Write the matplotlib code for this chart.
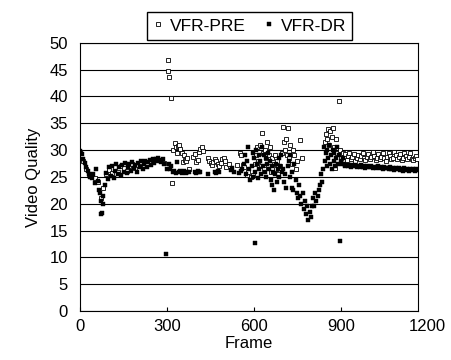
import matplotlib.pyplot as plt
import numpy as np

plt.rcParams['font.family'] = ['Liberation Sans', 'DejaVu Sans']

# ---- VFR-DR (filled squares) ----
dr_frames_a = np.arange(0, 305, 5)
dr_vals_a = [29.8, 29.2, 28.4, 27.6, 26.8, 26.2, 25.6, 25.0, 24.8, 25.5,
             23.8, 26.5, 24.2, 22.5, 20.5, 18.3, 21.5, 23.5, 25.8, 24.6,
             26.8, 25.2, 27.0, 24.8, 26.2, 27.4, 25.6, 26.9, 25.4, 27.2,
             26.0, 27.6, 25.8, 26.8, 27.5, 26.2, 27.8, 26.6, 27.3, 26.0,
             27.6, 26.8, 27.9, 26.5, 27.4, 28.0, 26.9, 27.8, 28.2, 27.3,
             28.3, 27.6, 28.4, 27.9, 28.5, 28.1, 27.8, 28.3, 27.5, 10.6,
             26.5]

dr_frames_b = [68, 72, 78, 305, 310, 315, 320, 325, 330, 335, 340, 345, 350,
               355, 360, 365, 370, 375, 395, 400, 405, 410, 415, 440, 465,
               470, 475, 480, 520, 525, 530, 550, 555, 560]
dr_vals_b = [22.0, 18.0, 20.0, 27.5, 26.5, 27.0, 26.0, 26.2, 25.8, 27.7,
             25.9, 26.1, 25.7, 26.0, 26.2, 25.8, 26.0, 25.9, 26.0, 25.8,
             26.1, 25.9, 26.0, 25.5, 26.0, 25.8, 26.1, 25.9, 26.3, 26.6,
             26.0, 25.8, 26.2, 26.5]

dr_frames_c = [565, 570, 573, 576, 580, 583, 586, 592, 595, 598, 601, 603,
               604, 607, 610, 613, 616, 619, 622, 625, 628, 631, 634, 637,
               640, 643, 646, 649, 652, 655, 658, 661, 664, 667, 670, 673,
               676, 679, 682, 685, 688, 691, 694, 697]
dr_vals_c = [27.5, 29.0, 25.5, 28.0, 30.5, 26.5, 24.5, 27.0, 29.5, 25.0,
             28.5, 12.7, 26.0, 30.0, 27.5, 24.8, 29.0, 26.5, 28.0, 25.5,
             30.5, 27.0, 29.0, 26.0, 28.5, 25.0, 27.5, 29.5, 26.5, 28.0,
             24.5, 27.0, 23.5, 26.0, 22.5, 25.5, 27.5, 24.0, 26.5, 28.5,
             25.0, 27.0, 29.0, 26.0]

dr_frames_d = [700, 705, 708, 712, 716, 720, 723, 726, 730, 733, 736, 740,
               744, 748, 752, 756, 760, 764, 768, 772, 776, 780, 784, 788,
               792, 796, 800, 804, 808, 812, 816, 820, 824, 828, 832, 835,
               838, 842, 845, 848, 851, 854, 857, 860, 863, 866, 869, 872,
               875, 878, 881, 884, 887, 890, 893, 897, 900, 903, 906]
dr_vals_d = [26.5, 24.0, 25.5, 23.0, 27.0, 28.0, 25.0, 29.0, 23.0, 26.0,
             22.5, 27.5, 24.5, 22.0, 21.0, 23.5, 21.5, 20.0, 22.0, 19.0,
             20.5, 18.0, 19.5, 17.0, 18.5, 17.5, 19.5, 21.0, 19.5, 22.0,
             20.5, 21.5, 22.5, 23.5, 25.5, 24.0, 26.5, 30.5, 28.0, 29.5,
             27.0, 30.0, 28.5, 31.0, 27.5, 29.0, 26.5, 30.0, 28.0, 29.5,
             27.0, 28.5, 30.5, 27.5, 29.0, 13.1, 28.0, 27.5, 28.5]

dr_frames_e = np.arange(910, 1170, 5)
dr_vals_e = [27.4, 27.1, 27.3, 27.0, 27.2, 26.9, 27.3, 27.0, 27.2, 26.8,
             27.1, 26.9, 27.2, 26.8, 27.0, 26.7, 27.1, 26.9, 26.8, 27.0,
             26.7, 26.9, 26.6, 26.8, 27.0, 26.6, 26.8, 26.5, 26.9, 26.6,
             26.7, 26.4, 26.8, 26.5, 26.6, 26.3, 26.7, 26.4, 26.6, 26.3,
             26.5, 26.2, 26.6, 26.3, 26.5, 26.2, 26.4, 26.3, 26.5, 26.2,
             26.4, 26.3]

# ---- VFR-PRE (open squares) ----
pre_frames_a = np.arange(0, 300, 10)
pre_vals_a = [29.6, 28.0, 26.5, 25.5, 25.3, 24.8, 24.0, 21.0, 23.0, 25.5,
              26.3, 25.8, 26.8, 26.0, 27.0, 26.6, 26.2, 27.1, 27.4, 26.7,
              27.2, 27.7, 27.0, 27.6, 28.0, 27.8, 28.1, 28.2, 27.9, 27.6]

pre_frames_b = [302, 304, 308, 312, 318, 322, 326, 330, 334, 338, 342, 346,
                350, 354, 358, 362, 366, 370, 376, 390, 395, 400, 405, 410,
                415, 420, 425, 440, 445, 450, 455, 460, 465, 470, 475, 480,
                485, 490, 495, 500, 505, 515, 540, 552, 556, 562, 566, 575,
                580, 590, 597]
pre_vals_b = [46.8, 44.8, 43.6, 39.7, 23.9, 30.0, 31.3, 30.5, 29.5, 30.8,
              31.0, 30.2, 29.4, 27.8, 29.0, 28.2, 27.9, 28.6, 26.5, 28.7,
              29.3, 27.8, 28.2, 29.6, 30.2, 30.6, 29.8, 28.5, 28.0, 27.6,
              27.2, 27.8, 28.4, 28.0, 27.5, 27.0, 27.6, 28.3, 28.6, 28.0,
              26.9, 27.4, 27.2, 29.5, 29.0, 27.2, 26.9, 25.4, 26.0, 25.0,
              25.3]

pre_frames_c = [605, 608, 612, 615, 620, 624, 627, 630, 634, 638, 642, 645,
                648, 652, 656, 660, 664, 668, 672, 676, 680, 684, 690, 696,
                702, 705, 708, 712, 715, 718, 722, 726, 730, 734, 740, 745,
                750, 759, 765, 845, 850, 853, 856, 860, 864, 868, 872, 876,
                880, 884, 888, 894, 898, 902, 906]
pre_vals_c = [27.5, 29.0, 30.5, 28.0, 31.0, 27.0, 33.2, 29.5, 26.5, 30.0,
              28.5, 31.6, 27.0, 29.0, 30.5, 26.0, 28.5, 27.5, 29.0, 26.5,
              28.0, 25.5, 27.0, 29.5, 34.3, 31.5, 30.0, 32.0, 29.0, 34.1,
              28.5, 31.0, 27.5, 30.0, 29.0, 26.5, 28.0, 31.9, 28.5, 31.5,
              33.0, 32.0, 34.0, 31.0, 33.5, 32.5, 34.1, 30.5, 26.7, 32.0,
              29.5, 39.2, 30.0, 28.5, 29.5]

pre_frames_d = np.arange(910, 1170, 5)
pre_vals_d = [28.8, 29.3, 28.2, 28.9, 29.4, 28.4, 28.7, 29.2, 28.0, 28.6,
              29.1, 28.3, 28.9, 29.5, 28.5, 28.1, 28.8, 29.3, 28.4, 28.7,
              29.6, 28.9, 28.2, 28.6, 29.2, 28.3, 28.8, 29.4, 28.5, 28.0,
              28.7, 29.5, 28.9, 28.3, 28.6, 29.7, 29.0, 28.4, 28.8, 29.3,
              28.2, 28.6, 29.4, 28.9, 28.3, 28.7, 29.5, 28.4, 28.1, 28.6,
              28.9, 28.4]

x_ticks = [0, 300, 600, 900]
y_ticks = list(range(0, 55, 5))

pre_x = np.concatenate([pre_frames_a, pre_frames_b, pre_frames_c, pre_frames_d])
pre_y = np.concatenate([pre_vals_a, pre_vals_b, pre_vals_c, pre_vals_d])
dr_x = np.concatenate([dr_frames_a, dr_frames_b, dr_frames_c, dr_frames_d, dr_frames_e])
dr_y = np.concatenate([dr_vals_a, dr_vals_b, dr_vals_c, dr_vals_d, dr_vals_e])

fig = plt.figure(figsize=(4.51, 3.6), dpi=100)
ax = fig.add_axes([0.178, 0.136, 0.749, 0.745])

ax.plot(pre_x, pre_y, ls='none', marker='s', ms=3.2, mfc='white', mec='black',
        mew=0.6, label='VFR-PRE', zorder=3)
ax.plot(dr_x, dr_y, ls='none', marker='s', ms=3.2, mfc='black', mec='black',
        mew=0.3, label='VFR-DR', zorder=4)

ax.set_xlim(0, 1167)
ax.set_ylim(0, 50)
ax.set_xticks(x_ticks)
ax.set_yticks(y_ticks)
ax.annotate('1200', xy=(1200, 0), xycoords=('data', 'axes fraction'),
            xytext=(0, -6), textcoords='offset points', ha='center', va='top',
            fontsize=12, annotation_clip=False)
ax.tick_params(axis='x', direction='in', length=3, pad=6, labelsize=12)
ax.tick_params(axis='y', length=0, pad=9, labelsize=12)
ax.yaxis.grid(True, color='black', lw=0.8)
ax.set_axisbelow(True)
for s in ax.spines.values():
    s.set_color('black')
    s.set_linewidth(0.8)

ax.set_xlabel('Frame', fontsize=12, labelpad=1)
ax.set_ylabel('Video Quality', fontsize=12, labelpad=6)

fig.legend(loc='upper center', bbox_to_anchor=(0.553, 0.99), ncol=2,
           fancybox=False, edgecolor='black', framealpha=1, fontsize=12.5,
           handlelength=0.6, handletextpad=0.4, columnspacing=1.0,
           borderpad=0.35, markerscale=0.8)

fig.savefig('out.png', dpi=100)
